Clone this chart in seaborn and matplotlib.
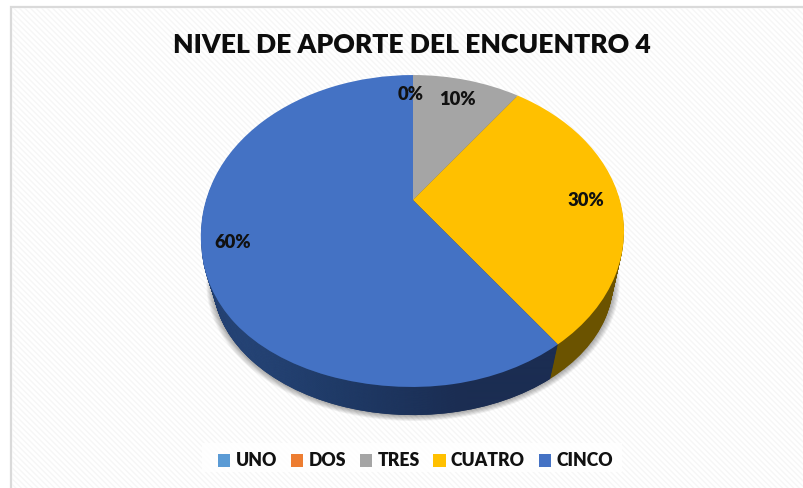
import numpy as np
import seaborn as sns
from matplotlib import pyplot as plt
from matplotlib.patches import Patch, Rectangle
from matplotlib.transforms import Transform

categories = ['UNO', 'DOS', 'TRES', 'CUATRO', 'CINCO']
values = [0, 0, 10, 30, 60]
shown_labels = [True, False, True, True, True]
title = 'NIVEL DE APORTE DEL ENCUENTRO 4'

top_colors = ['#5b9bd5', '#ed7d31', '#a5a5a5', '#ffc000', '#4472c4']
side_colors = ['#2b4f70', '#7a3d14', '#606060', '#6b5300', '#1b2d52']
label_radius = [0.82, 0.82, 0.81, 0.835, 0.86]

sns.set_theme(style='white')
plt.rcParams['font.family'] = ['Lato', 'DejaVu Sans']


# pie seen from an angle: the centre sits above the middle of the ellipse.
# t goes from 0 (top face) to 1 (bottom face), which is narrower and flatter
class Perspective(Transform):
    input_dims = 2
    output_dims = 2

    def __init__(self, t=0.0, grow=0.0):
        super().__init__()
        self.t = t
        self.grow = grow

    def transform_non_affine(self, xy):
        xy = np.asarray(xy, dtype=float)
        x, y = xy[:, 0], xy[:, 1]
        k = 0.1987
        sx = 1 - 0.052 * self.t + self.grow
        sy = 1 - 0.147 * self.t + self.grow
        # top face bulges a little at the lower left in the original
        bulge = 22 * (1 - self.t) * np.clip(-x, 0, None) * np.clip(-y, 0, None) ** 2
        px = 413 + sx * 206.8 * x / (1 + k * y) - bulge
        py = 200 + 55.6 * self.t - sy * 149.8 * y / (1 + k * y)
        return np.column_stack([px, py])


fig = plt.figure(figsize=(8.04, 4.88), dpi=100)
ax = fig.add_axes([0, 0, 1, 1])


def draw_pie(colors, t=0.0, grow=0.0, alpha=None, zorder=2):
    wedges, _ = ax.pie(values, colors=colors, startangle=90, counterclock=False, radius=1,
                       wedgeprops={'linewidth': 0, 'alpha': alpha})
    for w in wedges:
        w.set_transform(Perspective(t, grow) + ax.transData)
        w.set_zorder(zorder)
    return wedges


# soft shadow
for i in range(9):
    draw_pie(['#000000'] * 5, t=1.0, grow=0.032 - i * 0.0035, alpha=0.04, zorder=1.5)

# side of the pie, deepest layer first
ramp = np.array(sns.blend_palette(['#2f5590', '#22406f', '#1b2d52', '#1b2d52'], n_colors=400))[None, :, :]
for t in np.linspace(1, 0.02, 40):
    wedges = draw_pie(side_colors, t=t, zorder=2)
    im = ax.imshow(ramp, extent=(202, 602, 488, 0), aspect='auto', zorder=2, interpolation='bilinear')
    im.set_clip_path(wedges[-1])

top_wedges = draw_pie(top_colors, zorder=3)

ax.set_aspect('auto')
ax.set_xlim(0, 804)
ax.set_ylim(488, 0)
ax.set_axis_off()

# chart frame and faint diagonal background
ax.add_patch(Rectangle((11, 7), 810, 500, facecolor='white', edgecolor='#dadada', linewidth=1.6, zorder=0))
ax.add_patch(Rectangle((12, 8), 810, 500, facecolor='none', edgecolor='#f6f6f6', hatch='\\\\\\\\\\\\',
                       linewidth=0, zorder=0.5))
ax.add_patch(Rectangle((202, 443), 420, 29, facecolor='white', edgecolor='none', alpha=0.85, zorder=1))

# percent labels, placed along the middle of each slice
persp = Perspective()
for w, v, show, r in zip(top_wedges, values, shown_labels, label_radius):
    if not show:
        continue
    mid = np.radians((w.theta1 + w.theta2) / 2)
    lx, ly = persp.transform_non_affine(np.array([[r * np.cos(mid), r * np.sin(mid)]]))[0]
    if v == 0:
        lx -= 2
    ax.text(lx, ly, f'{v}%', ha='center', va='center', fontsize=13.2, fontweight='heavy',
            color='#111111', zorder=5)

ax.text(411.5, 45, title, ha='center', va='center', fontsize=19.1, fontweight='heavy', color='#0d0d0d', zorder=5)

handles = [Patch(facecolor=c, edgecolor='none', label=n) for c, n in zip(top_colors, categories)]
ax.legend(handles=handles, loc='center', bbox_to_anchor=(415.5 / 804, 1 - 461 / 488), ncol=5, frameon=False,
          handlelength=0.7, handleheight=0.7, handletextpad=0.3, columnspacing=0.78, labelcolor='#111111',
          prop={'size': 12.7, 'weight': 'heavy'})

fig.savefig('out.png', dpi=100)
